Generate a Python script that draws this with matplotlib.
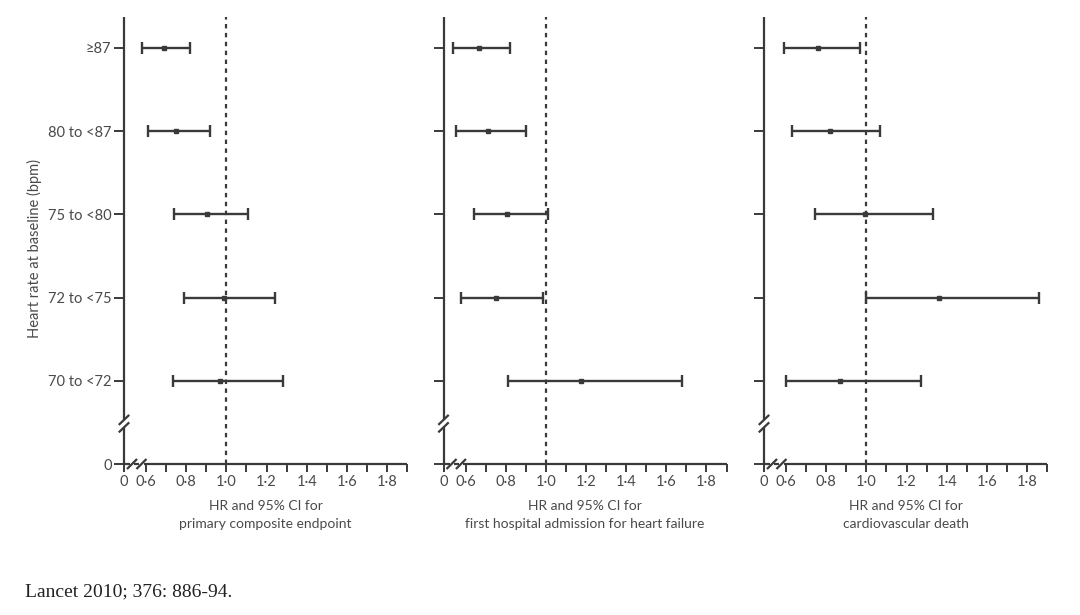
import numpy as np
import matplotlib
matplotlib.use("Agg")
import matplotlib.pyplot as plt

plt.rcParams['font.family'] = ['Lato', 'DejaVu Sans']

# heart-rate groups, bottom to top
groups = ["70 to <72", "72 to <75", "75 to <80", "80 to <87", "\u226587"]
ypos = [1, 2, 3, 4, 5]

titles = ["HR and 95% CI for\nprimary composite endpoint",
          "HR and 95% CI for\nfirst hospital admission for heart failure",
          "HR and 95% CI for\ncardiovascular death"]

# hazard ratios and 95% CI, same order as groups
hr_primary = [0.97, 0.99, 0.905, 0.75, 0.69]
lo_primary = [0.735, 0.79, 0.74, 0.61, 0.58]
hi_primary = [1.28, 1.24, 1.11, 0.92, 0.82]

hr_hosp = [1.175, 0.75, 0.805, 0.71, 0.665]
lo_hosp = [0.81, 0.575, 0.64, 0.55, 0.535]
hi_hosp = [1.68, 0.985, 1.01, 0.90, 0.82]

hr_cvd = [0.87, 1.36, 0.995, 0.82, 0.757]
lo_cvd = [0.60, 1.0, 0.743, 0.63, 0.588]
hi_cvd = [1.27, 1.86, 1.33, 1.07, 0.97]

panels = [(hr_primary, lo_primary, hi_primary),
          (hr_hosp, lo_hosp, hi_hosp),
          (hr_cvd, lo_cvd, hi_cvd)]

xticks = [0.49, 0.6, 0.8, 1.0, 1.2, 1.4, 1.6, 1.8]
xticklabels = ["0", "0\u00b76", "0\u00b78", "1\u00b70", "1\u00b72", "1\u00b74", "1\u00b76", "1\u00b78"]
xminor = [0.7, 0.9, 1.1, 1.3, 1.5, 1.7, 1.9]

lc = "#3a3a3a"
tc = "#4a4a4a"
X0, X1 = 0.49, 1.9
Y1 = 5.37

fig = plt.figure(figsize=(10.8, 6.15), dpi=100)
lefts = [124 / 1080, 443.5 / 1080, 764 / 1080]
bottom = 1 - 464 / 615
height = (464 - 17) / 615
width = 283 / 1080

for i, (hr, lo, hi) in enumerate(panels):
    ax = fig.add_axes([lefts[i], bottom, width, height])
    hr = np.array(hr)
    lo = np.array(lo)
    hi = np.array(hi)
    ax.errorbar(hr, ypos, xerr=[hr - lo, hi - hr], fmt='s', ms=3.2,
                color=lc, ecolor=lc, elinewidth=1.7, capsize=4, capthick=1.7)
    ax.axvline(1.0, color=lc, lw=1.6, ls=(0, (2.0, 2.0)))

    ax.set_xlim(X0, X1)
    ax.set_ylim(0, Y1)
    for s in ['top', 'right', 'bottom', 'left']:
        ax.spines[s].set_visible(False)

    # axis lines with break marks
    kw = dict(color=lc, lw=1.6, clip_on=False, solid_capstyle='butt')
    ax.plot([X0, 0.52], [0, 0], **kw)
    ax.plot([0.54, 0.567], [0, 0], **kw)
    ax.plot([0.588, X1], [0, 0], **kw)
    for bx in [0.53, 0.577]:
        ax.plot([bx - 0.025, bx + 0.025], [-0.06, 0.06], **kw)
    ax.plot([X0, X0], [0, 0.44], **kw)
    ax.plot([X0, X0], [0.53, Y1], **kw)
    for by in [0.44, 0.53]:
        ax.plot([X0 - 0.026, X0 + 0.026], [by - 0.06, by + 0.06], **kw)

    ax.set_xticks(xticks)
    ax.set_xticklabels(xticklabels)
    ax.set_xticks(xminor, minor=True)
    ax.tick_params(axis='x', which='both', direction='out', length=6, width=1.4,
                   color=lc, labelcolor=tc, labelsize=10.5, pad=2)
    ax.set_yticks([0] + ypos)
    if i == 0:
        ax.set_yticklabels(["0"] + groups)
    else:
        ax.set_yticklabels([])
    ax.tick_params(axis='y', direction='out', length=7, width=1.4,
                   color=lc, labelcolor=tc, labelsize=10.5, pad=2)

    cx = lefts[i] + width / 2
    fig.text(cx, 1 - 506 / 615, titles[i].split("\n")[0], ha='center', va='center',
             fontsize=10, color=tc)
    fig.text(cx, 1 - 524 / 615, titles[i].split("\n")[1], ha='center', va='center',
             fontsize=10, color=tc)

fig.text(34 / 1080, 1 - 248 / 615, "Heart rate at baseline (bpm)", rotation=90,
         ha='center', va='center', fontsize=10.5, color=tc)
fig.text(25 / 1080, 1 - 592 / 615, "Lancet 2010; 376: 886-94.", ha='left', va='center',
         fontsize=14, color="#222222", family='Liberation Serif')

fig.savefig("out.png", dpi=100)
